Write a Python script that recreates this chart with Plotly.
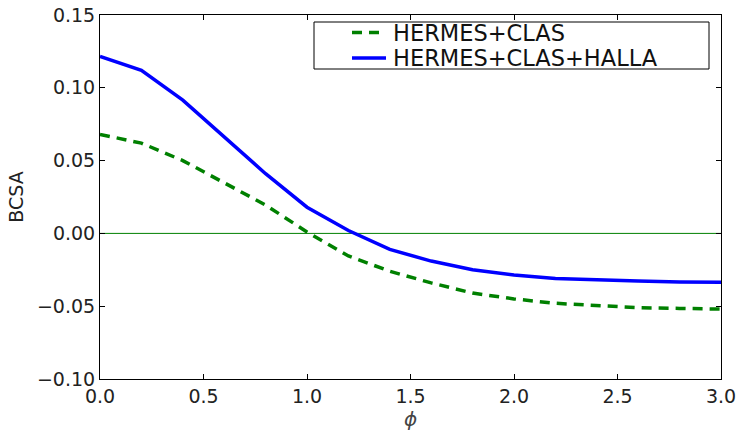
import plotly.graph_objects as go

phi = [0.0, 0.2, 0.4, 0.6, 0.8, 1.0, 1.2, 1.4, 1.6, 1.8, 2.0, 2.2, 2.4, 2.6, 2.8, 3.0]
hermes_clas = [0.068, 0.062, 0.050, 0.035, 0.0195, 0.001, -0.0155, -0.026, -0.034, -0.041, -0.045, -0.048, -0.0497, -0.051, -0.0515, -0.052]
hermes_clas_halla = [0.1215, 0.112, 0.0915, 0.066, 0.041, 0.018, 0.002, -0.011, -0.019, -0.025, -0.0285, -0.031, -0.032, -0.0327, -0.0333, -0.0335]
series_names = ["HERMES+CLAS", "HERMES+CLAS+HALLA"]
x_ticks = [0.0, 0.5, 1.0, 1.5, 2.0, 2.5, 3.0]
y_ticks = [-0.10, -0.05, 0.00, 0.05, 0.10, 0.15]

W, H = 738, 432
ML, MR, MT, MB = 100, 17, 15, 53
PW, PH = W - ML - MR, H - MT - MB


def px(x):
    return (x - ML) / PW


def py(y):
    return 1 - (y - MT) / PH


green = "#008000"
blue = "#0000ff"
styles = [dict(color=green, width=3.5, dash="10px,7px"), dict(color=blue, width=3.5)]

fig = go.Figure()
fig.add_trace(go.Scatter(x=[0, 3], y=[0, 0], mode="lines", line=dict(color=green, width=1),
                         showlegend=False, hoverinfo="skip"))
for name, vals, st in zip(series_names, [hermes_clas, hermes_clas_halla], styles):
    fig.add_trace(go.Scatter(x=phi, y=vals, mode="lines", name=name, line=st, showlegend=False))

# legend drawn manually (matplotlib-style box)
shapes = [dict(type="rect", xref="paper", yref="paper", x0=px(314), x1=px(709), y0=py(69), y1=py(22),
               line=dict(color="black", width=1), fillcolor="white", layer="above")]
annotations = []
row_y = [32.5, 58]
for name, st, ry in zip(series_names, styles, row_y):
    shapes.append(dict(type="line", xref="paper", yref="paper", x0=px(352), x1=px(386), y0=py(ry), y1=py(ry),
                       line=dict(color=st["color"], width=3.5, dash=st.get("dash", "solid")), layer="above"))
    annotations.append(dict(text=name, xref="paper", yref="paper", x=px(392), y=py(ry), xanchor="left",
                            yanchor="middle", showarrow=False, borderpad=0,
                            font=dict(family="DejaVu Sans", size=22.5, color="#111")))

axis_common = dict(showgrid=False, zeroline=False, showline=True, linecolor="black", linewidth=1,
                   mirror="ticks", ticks="inside", ticklen=5, tickcolor="black", automargin=False,
                   tickfont=dict(family="DejaVu Sans", size=19, color="#222"))
fig.update_layout(
    width=W, height=H,
    margin=dict(l=ML, r=MR, t=MT, b=MB),
    paper_bgcolor="white", plot_bgcolor="white",
    font=dict(family="DejaVu Sans", size=19, color="#222"),
    xaxis=dict(range=[0, 3], tickvals=x_ticks, tickformat=".1f",
               title=dict(text="<i>ϕ</i>", font=dict(size=20, color="#444"), standoff=2), **axis_common),
    yaxis=dict(range=[-0.10, 0.15], tickvals=y_ticks, tickformat=".2f",
               title=dict(text="BCSA", font=dict(size=19), standoff=8), **axis_common),
    shapes=shapes,
    annotations=annotations,
    showlegend=False,
)
fig.write_html("out.html")
